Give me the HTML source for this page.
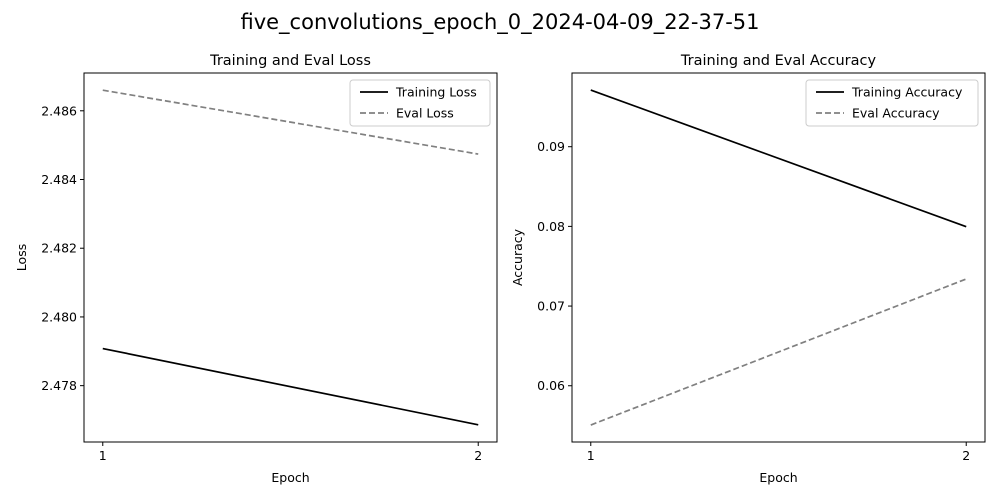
<!DOCTYPE html>
<html><head><meta charset="utf-8"><style>
body{margin:0;background:#fff;font-family:"DejaVu Sans","Liberation Sans",sans-serif}
svg text{font-family:"DejaVu Sans","Liberation Sans",sans-serif}
</style></head><body>
<svg id="fig" width="1000" height="500" xmlns="http://www.w3.org/2000/svg">
<rect width="1000" height="500" fill="#fff"/>
<text x="500" y="29" font-size="21" text-anchor="middle">five_convolutions_epoch_0_2024-04-09_22-37-51</text>
</svg>
<script>
const epochs=[1,2];
const trainLoss=[2.47908,2.47686];
const evalLoss=[2.4866,2.48474];
const trainAcc=[0.09711,0.07996];
const evalAcc=[0.05507,0.07340];
const lossTicks=[2.478,2.480,2.482,2.484,2.486];
const accTicks=[0.06,0.07,0.08,0.09];
const svg=document.getElementById('fig');
const NS='http://www.w3.org/2000/svg';
function mk(t,a,p){const e=document.createElementNS(NS,t);for(const k in a)e.setAttribute(k,a[k]);(p||svg).appendChild(e);return e;}
function panel(o){
  const L=o.left,R=o.left+413,T=73,B=442;
  const m=(R-L)/22;
  const xs=v=>L+m+(v-1)*(R-L-2*m);
  const ys=v=>B-(v-o.ymin)/(o.ymax-o.ymin)*(B-T);
  const g=mk('g',{});
  
  
  const t=mk('text',{x:(L+R)/2,y:T-8,'font-size':14.5,'text-anchor':'middle'},g);t.textContent=o.title;
  
  o.ticks.forEach(v=>{const y=ys(v);mk('line',{x1:L-4,x2:L,y1:y,y2:y,stroke:'#000'},g);
    const tx=mk('text',{x:L-7,y:y+4.5,'font-size':12.5,'text-anchor':'end'},g);tx.textContent=v.toFixed(o.dec);
    });
  epochs.forEach(v=>{const x=xs(v);mk('line',{x1:x,x2:x,y1:B,y2:B+4,stroke:'#000'},g);
    const tx=mk('text',{x:x,y:B+18,'font-size':12.5,'text-anchor':'middle'},g);tx.textContent=v;
    });
  const xl=mk('text',{x:(L+R)/2,y:482,'font-size':12.5,'text-anchor':'middle'},g);xl.textContent='Epoch';
  
  const yl=mk('text',{x:0,y:0,'font-size':12.5,'text-anchor':'middle',transform:`translate(${o.ylx},${(T+B)/2}) rotate(-90)`},g);yl.textContent=o.ylabel;
  
  const cp='c'+o.left;const cl=mk('clipPath',{id:cp},g);mk('rect',{x:L,y:T,width:R-L,height:B-T},cl);
  o.series.forEach(s=>{const p=mk('polyline',{points:s.v.map((v,i)=>xs(epochs[i])+','+ys(v)).join(' '),fill:'none',stroke:s.c,'stroke-width':1.7,'stroke-dasharray':s.d||'none','clip-path':`url(#${cp})`},g);
    });
  const fr=mk('rect',{x:L,y:T,width:R-L,height:B-T,fill:'none',stroke:'#000','stroke-width':1},g);
  
  const lg=mk('g',{},g);
  mk('rect',{x:R-7-o.lw,y:80,width:o.lw,height:46,rx:3,fill:'#fff',stroke:'#ccc'},lg);
  o.series.forEach((s,i)=>{const y=92+i*21;mk('line',{x1:R-o.lw+3,x2:R-o.lw+31,y1:y,y2:y,stroke:s.c,'stroke-width':1.7,'stroke-dasharray':s.d||'none'},lg);
    const tx=mk('text',{x:R-o.lw+39,y:y+4.5,'font-size':12.5},lg);tx.textContent=s.label;
    });
}
panel({name:'loss-panel',left:84,title:'Training and Eval Loss',ylabel:'Loss',ylx:26,ymin:2.47636,ymax:2.4871,ticks:lossTicks,dec:3,lw:140,
  series:[{v:trainLoss,c:'#000',label:'Training Loss',n:'training-loss-line'},{v:evalLoss,c:'#808080',d:'6,3',label:'Eval Loss',n:'eval-loss-line'}]});
panel({name:'accuracy-panel',left:572,title:'Training and Eval Accuracy',ylabel:'Accuracy',ylx:522,ymin:0.05294,ymax:0.09925,ticks:accTicks,dec:2,lw:172,
  series:[{v:trainAcc,c:'#000',label:'Training Accuracy',n:'training-accuracy-line'},{v:evalAcc,c:'#808080',d:'6,3',label:'Eval Accuracy',n:'eval-accuracy-line'}]});
</script>
</body></html>
